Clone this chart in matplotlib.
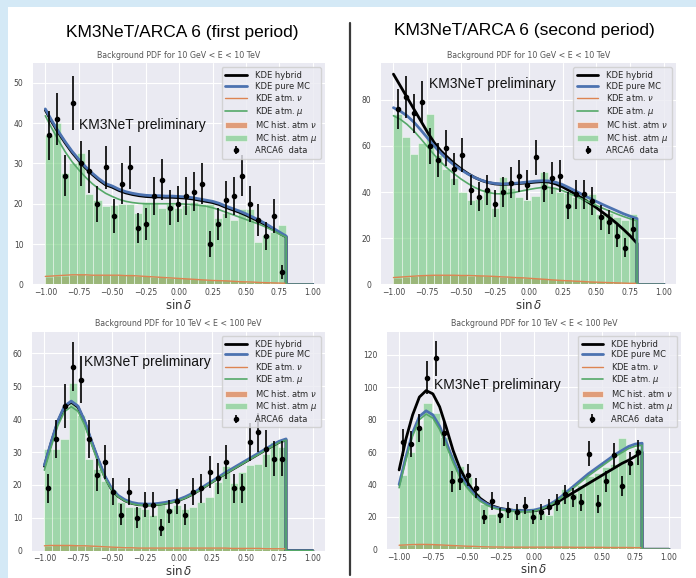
import numpy as np
import matplotlib
matplotlib.use("Agg")
import matplotlib.pyplot as plt
from matplotlib.patches import Rectangle
from matplotlib.lines import Line2D

plt.style.use("seaborn-v0_8-darkgrid")
plt.rcParams["font.family"] = ["DejaVu Sans"]

# sin(delta) binning of the histograms and grid of the KDE curves
bin_edges = np.linspace(-1.0, 0.8, 31)
kde_x = np.linspace(-1.0, 0.8, 37)

# ---- first period, 10 GeV < E < 10 TeV ----
p1_data = [37, 41, 27, 45, 30, 28, 20, 29, 17, 25, 29, 14, 15, 22, 26,
           19, 20, 22, 23, 25, 10, 15, 21, 22, 27, 20, 16, 12, 17, 3]
p1_hist_mu = [37, 40, 27.5, 30, 32.5, 22.5, 21, 19.5, 19.7, 20, 20, 17.8, 20.5, 20.5, 19,
              20, 19, 19.7, 20.5, 20, 20, 16.4, 17.6, 16, 18.6, 18.6, 10.6, 12.2, 13, 14.7]
p1_hist_nu = [1.8, 2.0, 2.1, 2.3, 2.6, 2.4, 2.3, 2.4, 2.3, 2.4, 2.5, 2.1, 2.0, 1.9, 1.8,
              1.7, 1.6, 1.5, 1.4, 1.3, 1.2, 1.1, 1.0, 0.9, 0.8, 0.7, 0.6, 0.5, 0.4, 0.3]
p1_kde_mc = [43.5, 40.5, 37.8, 35.3, 33.0, 31.0, 29.2, 27.6, 26.2, 25.0, 24.4, 23.6, 23.0,
             22.6, 22.3, 22.1, 22.0, 22.0, 21.9, 21.9, 21.8, 21.7, 21.5, 21.2, 20.9, 20.6,
             20.1, 19.4, 18.8, 18.2, 17.5, 16.7, 15.9, 15.0, 14.0, 13.0, 12.0]
p1_kde_hybrid = [43.2, 40.2, 37.5, 35.0, 32.7, 30.7, 28.9, 27.3, 25.9, 24.7, 24.1, 23.3, 22.7,
                 22.3, 22.0, 21.8, 21.7, 21.7, 21.6, 21.6, 21.5, 21.4, 21.2, 20.9, 20.6, 20.3,
                 19.8, 19.1, 18.5, 17.9, 17.2, 16.4, 15.6, 14.7, 13.7, 12.7, 11.8]
p1_kde_mu = [41.8, 38.6, 35.6, 32.8, 30.4, 28.4, 26.6, 25.0, 23.7, 22.6, 21.8, 21.1, 20.6,
             20.3, 20.1, 20.0, 20.0, 20.0, 20.0, 20.0, 20.0, 19.9, 19.8, 19.6, 19.4, 19.0,
             18.5, 17.9, 17.3, 16.7, 16.1, 15.5, 14.9, 14.2, 13.4, 12.5, 11.7]
p1_kde_nu = [2.0, 2.1, 2.2, 2.3, 2.4, 2.4, 2.4, 2.3, 2.3, 2.3, 2.3, 2.3, 2.2, 2.2, 2.1, 2.0,
             1.9, 1.8, 1.7, 1.6, 1.5, 1.4, 1.3, 1.2, 1.1, 1.0, 0.95, 0.9, 0.8, 0.7, 0.65,
             0.6, 0.5, 0.45, 0.4, 0.35, 0.3]

# ---- second period, 10 GeV < E < 10 TeV ----
p2_data = [76, 81, 74, 79, 60, 54, 59, 50, 56, 41, 38, 41, 35, 40, 44,
           47, 43, 55, 42, 46, 47, 34, 39, 39, 36, 29, 27, 21, 16, 24]
p2_hist_mu = [73.6, 63.6, 56.3, 61, 73.6, 56, 50, 46, 40, 36.5, 36.8, 40.8, 33, 46.3, 41.8,
              38, 36.5, 38.2, 48.5, 42.3, 40, 39.4, 38, 38.7, 39, 30.7, 31, 29, 27.8, 30.7]
p2_hist_nu = [3.0, 3.3, 3.6, 4.0, 4.0, 4.1, 3.9, 4.0, 4.2, 3.8, 3.9, 3.7, 3.6, 3.4, 3.3,
              3.1, 3.0, 2.8, 2.6, 2.4, 2.2, 2.0, 1.8, 1.6, 1.4, 1.2, 1.0, 0.9, 0.7, 0.5]
p2_kde_hybrid = [91, 86, 81, 76, 71, 66, 61.5, 57.8, 55, 52.3, 50.0, 48.0, 46.3, 45.0, 44.1,
                 43.5, 43.3, 43.4, 43.6, 43.8, 44.0, 44.3, 44.5, 44.3, 43.5, 42.2, 40.6,
                 38.9, 37.1, 35.2, 33.2, 31.0, 28.8, 26.4, 23.8, 21.0, 17.8]
p2_kde_mc = [76.5, 75, 73, 70.3, 67, 63.5, 60, 56.8, 54, 51.6, 49.6, 47.8, 46.3, 45.1, 44.2,
             43.7, 43.5, 43.6, 43.8, 44.1, 44.4, 44.7, 44.9, 44.8, 44.2, 43.2, 41.8, 40.3,
             38.8, 37.3, 35.9, 34.5, 33.2, 31.9, 30.6, 29.5, 28.5]
p2_kde_mu = [73, 71.5, 69.3, 66.5, 63.2, 59.7, 56.2, 53, 50.2, 47.8, 45.6, 43.7, 42, 40.7,
             39.8, 39.3, 39.2, 39.4, 39.9, 40.5, 41.1, 41.6, 42, 42, 41.5, 40.6, 39.4, 38.1,
             36.8, 35.5, 34.2, 32.9, 31.7, 30.5, 29.4, 28.4, 27.5]
p2_kde_nu = [3.0, 3.2, 3.4, 3.6, 3.8, 3.9, 4.0, 4.0, 4.0, 4.0, 3.9, 3.9, 3.8, 3.7, 3.6, 3.5,
             3.3, 3.2, 3.0, 2.9, 2.7, 2.5, 2.3, 2.1, 1.9, 1.7, 1.6, 1.4, 1.3, 1.1, 1.0, 0.9,
             0.8, 0.7, 0.6, 0.5, 0.5]

# ---- first period, 10 TeV < E < 100 PeV ----
p3_data = [19, 34, 44, 56, 52, 34, 23, 27, 18, 11, 18, 10, 14, 14, 7,
           12, 15, 11, 18, 19, 24, 22, 27, 19, 19, 33, 36, 31, 28, 28]
p3_hist_mu = [30.8, 30.8, 34.1, 51, 41.2, 28, 25, 21.3, 18.6, 14.9, 13.2, 13.2, 12.6, 10.8, 14.4,
              12.9, 13.9, 12.6, 13.4, 14.9, 16.2, 21, 25.8, 20.7, 23.8, 26, 26.5, 29.4, 33, 31.6]
p3_hist_nu = [1.5, 1.6, 1.6, 1.7, 1.5, 1.4, 1.2, 1.1, 1.0, 0.9, 0.8, 0.8, 0.7, 0.7, 0.7,
              0.7, 0.7, 0.7, 0.7, 0.7, 0.7, 0.7, 0.7, 0.7, 0.7, 0.6, 0.6, 0.6, 0.5, 0.5]
p3_kde_mc = [26, 33, 39.5, 44, 45.5, 44, 39.5, 33.5, 28, 22.8, 19, 16.8, 15.5, 14.7, 14.3,
             14.2, 14.2, 14.4, 14.7, 15.1, 15.6, 16.4, 17.4, 18.6, 19.9, 21.2, 22.5, 23.8,
             25.0, 26.2, 27.4, 28.6, 29.8, 31.0, 32.2, 33.3, 34.0]
p3_kde_hybrid = [25.7, 32.7, 39.2, 43.7, 45.2, 43.7, 39.2, 33.2, 27.7, 22.5, 18.7, 16.5, 15.2,
                 14.4, 14.0, 13.9, 13.9, 14.1, 14.4, 14.8, 15.3, 16.1, 17.1, 18.3, 19.6, 20.9,
                 22.2, 23.5, 24.7, 25.9, 27.1, 28.3, 29.5, 30.7, 31.9, 33.0, 33.7]
p3_kde_mu = [24.5, 31.5, 38, 42.3, 43.8, 42.4, 38.2, 32.5, 26.8, 22, 18.6, 16.4, 15.1, 14.3,
             13.9, 13.8, 13.8, 14.0, 14.3, 14.7, 15.2, 16.0, 17.0, 18.2, 19.5, 20.8, 22.1,
             23.4, 24.6, 25.8, 27.0, 28.2, 29.4, 30.6, 31.8, 32.9, 33.6]
p3_kde_nu = [1.5, 1.6, 1.6, 1.6, 1.6, 1.5, 1.5, 1.4, 1.3, 1.2, 1.1, 1.0, 0.9, 0.9, 0.8, 0.8,
             0.8, 0.8, 0.8, 0.8, 0.8, 0.8, 0.8, 0.8, 0.8, 0.8, 0.8, 0.8, 0.7, 0.7, 0.7, 0.7,
             0.7, 0.6, 0.6, 0.6, 0.6]

# ---- second period, 10 TeV < E < 100 PeV ----
p4_data = [66, 65, 75, 106, 118, 72, 42, 43, 46, 38, 20, 30, 21, 24, 23,
           27, 20, 23, 26, 29, 34, 32, 29, 59, 28, 42, 58, 39, 53, 60]
p4_hist_mu = [45.9, 60.3, 74.7, 90.5, 84, 69.5, 58.6, 51.6, 44.9, 34.6, 28, 21.8, 22.2, 23.9, 25.3,
              23.3, 25.3, 22.2, 21.2, 28.4, 37, 35, 39.7, 45.3, 47.3, 51, 52.5, 68.5, 53, 62.3]
p4_hist_nu = [2.5, 2.8, 3.0, 3.2, 3.0, 2.7, 2.4, 2.1, 1.9, 1.7, 1.5, 1.4, 1.3, 1.3, 1.2,
              1.2, 1.2, 1.2, 1.2, 1.2, 1.2, 1.2, 1.2, 1.2, 1.2, 1.2, 1.1, 1.1, 1.1, 1.0]
p4_kde_hybrid = [49, 68, 83, 94, 98, 96, 88, 75, 61, 50, 42, 36, 31.5, 28.5, 26.5, 25.2, 24.5,
                 24, 23.8, 23.6, 23.8, 24.5, 26, 28, 30.5, 33, 35.5, 38, 40.5, 43, 45.5, 48,
                 50.5, 53, 55, 57.5, 60]
p4_kde_mc = [40, 57, 72, 82, 85.5, 83, 76, 66, 55, 46, 39.5, 34.5, 30.5, 28, 26, 25, 24.3, 24,
             23.8, 23.8, 24.2, 25.3, 27, 29.5, 32.5, 36, 39.5, 43, 46.5, 49.5, 52.5, 55.5,
             58.5, 61, 63.5, 65, 65.5]
p4_kde_mu = [38, 55, 70, 80, 83.5, 81, 74, 64, 53.5, 44.5, 38.3, 33.5, 29.7, 27.2, 25.4, 24.4,
             23.7, 23.4, 23.2, 23.2, 23.6, 24.7, 26.4, 28.8, 31.7, 35, 38.4, 41.8, 45.2, 48.2,
             51.2, 54.2, 57.2, 59.7, 62.2, 63.7, 64.2]
p4_kde_nu = [2.5, 2.7, 2.9, 3.0, 3.0, 2.9, 2.7, 2.5, 2.3, 2.1, 1.9, 1.8, 1.6, 1.5, 1.4, 1.4,
             1.3, 1.3, 1.3, 1.3, 1.3, 1.3, 1.3, 1.3, 1.3, 1.3, 1.2, 1.2, 1.2, 1.2, 1.2, 1.1,
             1.1, 1.1, 1.1, 1.0, 1.0]

sub_low = "Background PDF for 10 GeV < E < 10 TeV"
sub_high = "Background PDF for 10 TeV < E < 100 PeV"

BLUE = "#4c72b0"
ORANGE = "#dd8452"
GREEN = "#55a868"
BAR_GREEN = "#6eca7a"


def draw_panel(ax, data, hist_mu, hist_nu, hyb, mc, nu, mu, subtitle, ytop, prelim_pos):
    centers = (bin_edges[:-1] + bin_edges[1:]) / 2
    width = bin_edges[1] - bin_edges[0]
    # KDE is zero above sin(delta) = 0.8
    xl = np.r_[kde_x, 0.8, 1.0]

    b_nu = ax.bar(centers, hist_nu, width=width, color=ORANGE, alpha=0.75,
                  edgecolor="white", linewidth=0.5)
    b_mu = ax.bar(centers, hist_mu, width=width, color=BAR_GREEN, alpha=0.6,
                  edgecolor="white", linewidth=0.5)

    l1, = ax.plot(xl, np.r_[hyb, 0, 0], color="black", lw=2.0)
    l2, = ax.plot(xl, np.r_[mc, 0, 0], color=BLUE, lw=2.0)
    l3, = ax.plot(xl, np.r_[nu, 0, 0], color=ORANGE, lw=1.0)
    l4, = ax.plot(xl, np.r_[mu, 0, 0], color=GREEN, lw=1.2)

    eb = ax.errorbar(centers, data, yerr=np.sqrt(data), fmt="o", color="black",
                     ms=3, elinewidth=1.2, capsize=0, zorder=5)

    ax.set_xlim(-1.09, 1.09)
    ax.set_ylim(0, ytop)
    ax.set_xticks([-1.0, -0.75, -0.5, -0.25, 0.0, 0.25, 0.5, 0.75, 1.0])
    ax.tick_params(axis="x", labelsize=5.5, pad=2.5, colors="#444444")
    ax.tick_params(axis="y", labelsize=5.5, pad=7, colors="#444444")
    ax.set_title(subtitle, fontsize=5.7, color="#555555", pad=4)
    ax.set_xlabel("$\\sin\\delta$", fontsize=8.5, labelpad=0.5, color="#333333")
    ax.text(prelim_pos[0], prelim_pos[1], "KM3NeT preliminary", transform=ax.transAxes,
            fontsize=10, family="Liberation Sans", ha="center", va="center", color="#111111")
    ax.legend([l1, l2, l3, l4, b_nu, b_mu, eb],
              ["KDE hybrid", "KDE pure MC", "KDE atm. $\\nu$", "KDE atm. $\\mu$",
               "MC hist. atm $\\nu$", "MC hist. atm $\\mu$", "ARCA6  data"],
              loc="upper right", fontsize=6.0, handlelength=2.6, labelspacing=0.18,
              frameon=True, borderaxespad=0.5, handletextpad=0.9, borderpad=0.45)


fig = plt.figure(figsize=(6.96, 5.78), dpi=100)
fig.patch.set_facecolor("#d4e9f6")
fig.add_artist(Rectangle((8 / 696, 0), 1, 1 - 7 / 578, transform=fig.transFigure,
                         facecolor="white", edgecolor="none", zorder=-5))

ax1 = fig.add_axes([0.0478, 0.5078, 0.4191, 0.3827])
ax2 = fig.add_axes([0.5478, 0.5078, 0.4239, 0.3827])
ax3 = fig.add_axes([0.0464, 0.0472, 0.4205, 0.3789])
ax4 = fig.add_axes([0.5560, 0.0497, 0.4228, 0.3765])

draw_panel(ax1, p1_data, p1_hist_mu, p1_hist_nu, p1_kde_hybrid, p1_kde_mc, p1_kde_nu,
           p1_kde_mu, sub_low, 54.8, (0.373, 0.721))
draw_panel(ax2, p2_data, p2_hist_mu, p2_hist_nu, p2_kde_hybrid, p2_kde_mc, p2_kde_nu,
           p2_kde_mu, sub_low, 95.7, (0.375, 0.906))
draw_panel(ax3, p3_data, p3_hist_mu, p3_hist_nu, p3_kde_hybrid, p3_kde_mc, p3_kde_nu,
           p3_kde_mu, sub_high, 66.6, (0.392, 0.862))
draw_panel(ax4, p4_data, p4_hist_mu, p4_hist_nu, p4_kde_hybrid, p4_kde_mc, p4_kde_nu,
           p4_kde_mu, sub_high, 134.4, (0.374, 0.755))

fig.text(0.2615, 0.9446, "KM3NeT/ARCA 6 (first period)", fontsize=12.5,
         family="Liberation Sans", ha="center", va="center", color="black")
fig.text(0.7529, 0.9464, "KM3NeT/ARCA 6 (second period)", fontsize=12.5,
         family="Liberation Sans", ha="center", va="center", color="black")

# vertical divider between the two periods
fig.add_artist(Line2D([350 / 696, 350 / 696], [1 - 23 / 578, 1 - 575 / 578],
                      transform=fig.transFigure, color="#3a3a3a", lw=1.6))

fig.savefig("out.png", dpi=100)
